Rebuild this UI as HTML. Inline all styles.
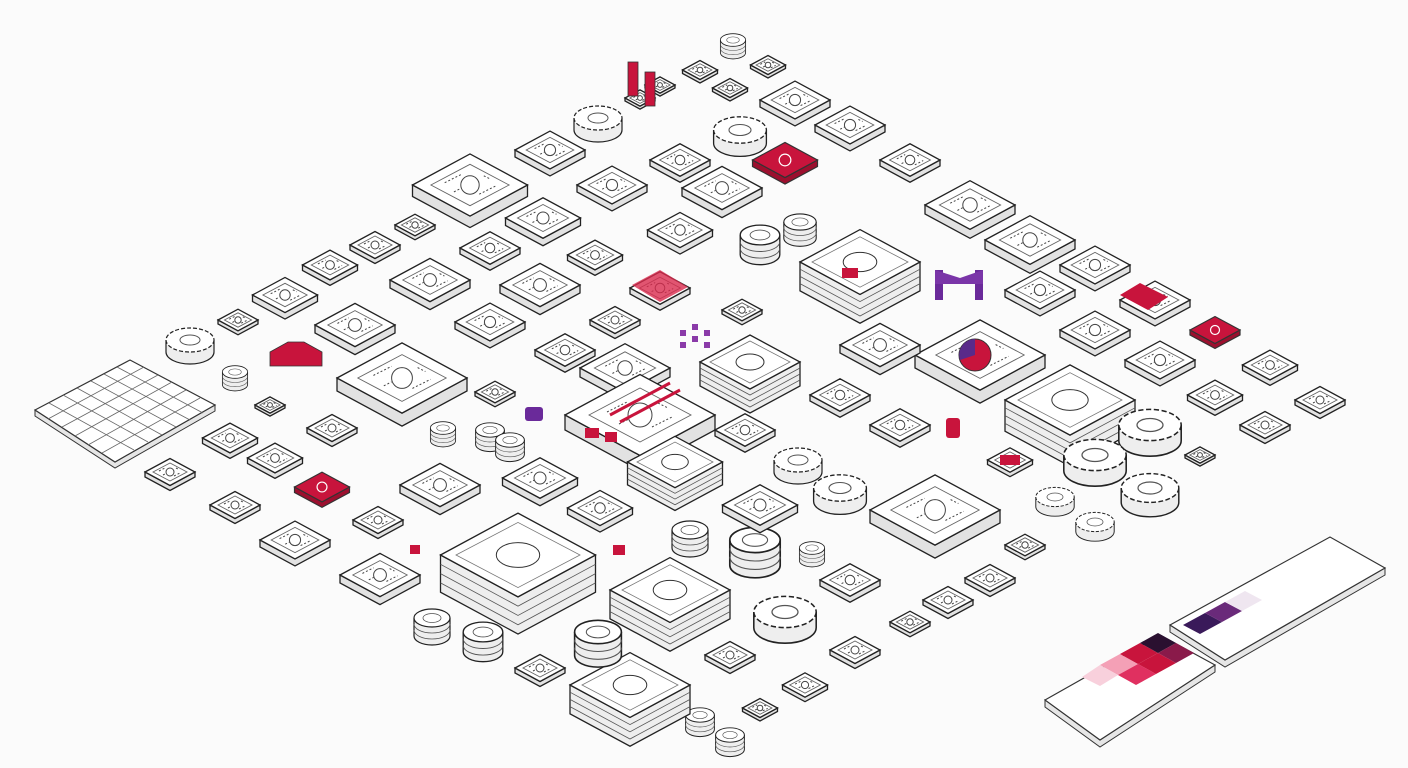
<!DOCTYPE html>
<html><head><meta charset="utf-8"><style>
html,body{margin:0;padding:0;background:#fbfbfb;}
svg{display:block;font-family:"Liberation Sans",sans-serif;}
</style></head><body>
<svg width="1408" height="768" viewBox="0 0 1408 768" xmlns="http://www.w3.org/2000/svg">
<defs>
<symbol id="b" overflow="visible">
<polygon points="-50,0 -50,10 0,37 50,10 50,0 0,27" fill="#e2e2e2" stroke="#222" stroke-width="1.3" vector-effect="non-scaling-stroke"/>
<polygon points="-50,0 0,-27 50,0 0,27" fill="#fff" stroke="#222" stroke-width="1.3" vector-effect="non-scaling-stroke"/>
<polygon points="-34,0 0,-18 34,0 0,18" fill="none" stroke="#666" stroke-width="0.9" vector-effect="non-scaling-stroke"/>
<circle cx="0" cy="0" r="8" fill="none" stroke="#444" stroke-width="1" vector-effect="non-scaling-stroke"/>
<path d="M-22,-2 l14,-7 M8,8 l14,-7 M-14,6 l6,-3 M12,-8 l6,3" stroke="#444" stroke-width="1" vector-effect="non-scaling-stroke" stroke-dasharray="2 2"/>
</symbol>
<symbol id="r" overflow="visible">
<polygon points="-50,0 -50,10 0,37 50,10 50,0 0,27" fill="#9c0f2e" stroke="#333" stroke-width="1.2" vector-effect="non-scaling-stroke"/>
<polygon points="-50,0 0,-27 50,0 0,27" fill="#c8143c" stroke="#333" stroke-width="1.2" vector-effect="non-scaling-stroke"/>
<circle cx="0" cy="0" r="9" fill="none" stroke="#fff" stroke-width="1.2" vector-effect="non-scaling-stroke"/>
</symbol>
<symbol id="m" overflow="visible">
<polygon points="-50,0 -50,24 0,51 50,24 50,0 0,27" fill="#eee" stroke="#222" stroke-width="1.3" vector-effect="non-scaling-stroke"/>
<polyline points="-50,6 0,33 50,6" fill="none" stroke="#555" stroke-width="0.8" vector-effect="non-scaling-stroke"/>
<polyline points="-50,12 0,39 50,12" fill="none" stroke="#555" stroke-width="0.8" vector-effect="non-scaling-stroke"/>
<polyline points="-50,18 0,45 50,18" fill="none" stroke="#555" stroke-width="0.8" vector-effect="non-scaling-stroke"/>
<polygon points="-50,0 0,-27 50,0 0,27" fill="#fff" stroke="#222" stroke-width="1.3" vector-effect="non-scaling-stroke"/>
<polygon points="-40,0 0,-21 40,0 0,21" fill="none" stroke="#777" stroke-width="0.8" vector-effect="non-scaling-stroke"/>
<ellipse cx="0" cy="0" rx="14" ry="8" fill="none" stroke="#333" stroke-width="1" vector-effect="non-scaling-stroke"/>
</symbol>
<symbol id="c" overflow="visible">
<path d="M-18,0 v18 a18,9 0 0 0 36,0 v-18" fill="#eee" stroke="#222" stroke-width="1.2"/>
<path d="M-18,6 a18,9 0 0 0 36,0 M-18,12 a18,9 0 0 0 36,0" fill="none" stroke="#555" stroke-width="0.8"/>
<ellipse cx="0" cy="0" rx="18" ry="9" fill="#fff" stroke="#222" stroke-width="1.2"/>
<ellipse cx="0" cy="0" rx="9" ry="4.5" fill="none" stroke="#555" stroke-width="0.8"/>
</symbol>
<symbol id="g" overflow="visible">
<path d="M-24,0 v12 a24,12 0 0 0 48,0 v-12" fill="#eee" stroke="#222" stroke-width="1.2"/>
<ellipse cx="0" cy="0" rx="24" ry="12" fill="#fff" stroke="#222" stroke-width="1.2" stroke-dasharray="4 2"/>
<ellipse cx="0" cy="0" rx="10" ry="5" fill="none" stroke="#555"/>
</symbol>
</defs>

<!-- left grid -->
<polygon points="35,410 35,416 115,468 215,411 215,405 115,462" fill="#e6e6e6" stroke="#333"/>
<polygon points="35,410 130,360 215,405 115,462" fill="#fff" stroke="#333" stroke-width="1.2"/>
<g stroke="#666" stroke-width="0.8">
<line x1="48" y1="419" x2="144" y2="367"/><line x1="62" y1="427" x2="158" y2="375"/><line x1="75" y1="436" x2="172" y2="382"/><line x1="88" y1="445" x2="186" y2="390"/><line x1="102" y1="453" x2="200" y2="398"/>
<line x1="49" y1="403" x2="134" y2="450"/><line x1="63" y1="395" x2="148" y2="442"/><line x1="77" y1="388" x2="162" y2="435"/><line x1="91" y1="381" x2="176" y2="427"/><line x1="104" y1="374" x2="190" y2="420"/><line x1="117" y1="367" x2="203" y2="413"/>
</g>

<use href="#b" transform="translate(470,185) scale(1.15)"/>
<use href="#b" transform="translate(550,150) scale(0.7)"/>
<use href="#g" transform="translate(598,118) scale(1)"/>
<use href="#b" transform="translate(795,100) scale(0.7)"/>
<use href="#b" transform="translate(850,125) scale(0.7)"/>
<use href="#r" transform="translate(785,160) scale(0.65)"/>
<use href="#g" transform="translate(740,130) scale(1.1)"/>
<use href="#b" transform="translate(910,160) scale(0.6)"/>
<use href="#b" transform="translate(970,205) scale(0.9)"/>
<use href="#b" transform="translate(1030,240) scale(0.9)"/>
<use href="#b" transform="translate(1095,265) scale(0.7)"/>
<use href="#b" transform="translate(1155,300) scale(0.7)"/>
<use href="#r" transform="translate(1215,330) scale(0.5)"/>
<use href="#b" transform="translate(1270,365) scale(0.55)"/>
<use href="#b" transform="translate(1320,400) scale(0.5)"/>
<use href="#b" transform="translate(1265,425) scale(0.5)"/>
<use href="#b" transform="translate(1215,395) scale(0.55)"/>
<use href="#b" transform="translate(1160,360) scale(0.7)"/>
<use href="#b" transform="translate(1095,330) scale(0.7)"/>
<use href="#b" transform="translate(1040,290) scale(0.7)"/>
<use href="#b" transform="translate(980,355) scale(1.3)"/>
<use href="#m" transform="translate(1070,400) scale(1.3)"/>
<use href="#g" transform="translate(1150,425) scale(1.3)"/>
<use href="#g" transform="translate(1095,455) scale(1.3)"/>
<use href="#g" transform="translate(1150,488) scale(1.2)"/>
<use href="#b" transform="translate(1200,455) scale(0.3)"/>
<use href="#b" transform="translate(935,510) scale(1.3)"/>
<use href="#b" transform="translate(880,345) scale(0.8)"/>
<use href="#m" transform="translate(860,262) scale(1.2)"/>
<use href="#b" transform="translate(840,395) scale(0.6)"/>
<use href="#b" transform="translate(900,425) scale(0.6)"/>
<use href="#b" transform="translate(1010,460) scale(0.45)"/>
<use href="#g" transform="translate(1055,497) scale(0.8)"/>
<use href="#g" transform="translate(1095,522) scale(0.8)"/>
<use href="#b" transform="translate(1025,545) scale(0.4)"/>
<use href="#b" transform="translate(990,578) scale(0.5)"/>
<use href="#b" transform="translate(948,600) scale(0.5)"/>
<use href="#b" transform="translate(910,622) scale(0.4)"/>
<use href="#b" transform="translate(855,650) scale(0.5)"/>
<use href="#b" transform="translate(805,685) scale(0.45)"/>
<use href="#b" transform="translate(760,708) scale(0.35)"/>
<use href="#c" transform="translate(730,735) scale(0.8)"/>
<use href="#c" transform="translate(700,715) scale(0.8)"/>
<use href="#b" transform="translate(730,655) scale(0.5)"/>
<use href="#g" transform="translate(785,612) scale(1.3)"/>
<use href="#b" transform="translate(850,580) scale(0.6)"/>
<use href="#c" transform="translate(755,540) scale(1.4)"/>
<use href="#c" transform="translate(812,548) scale(0.7)"/>
<use href="#b" transform="translate(760,505) scale(0.75)"/>
<use href="#c" transform="translate(690,530) scale(1)"/>
<use href="#m" transform="translate(670,590) scale(1.2)"/>
<use href="#m" transform="translate(630,685) scale(1.2)"/>
<use href="#b" transform="translate(540,668) scale(0.5)"/>
<use href="#c" transform="translate(598,632) scale(1.3)"/>
<use href="#m" transform="translate(518,555) scale(1.55)"/>
<use href="#c" transform="translate(483,632) scale(1.1)"/>
<use href="#c" transform="translate(432,618) scale(1)"/>
<use href="#b" transform="translate(380,575) scale(0.8)"/>
<use href="#b" transform="translate(295,540) scale(0.7)"/>
<use href="#b" transform="translate(235,505) scale(0.5)"/>
<use href="#b" transform="translate(170,472) scale(0.5)"/>
<use href="#b" transform="translate(230,438) scale(0.55)"/>
<use href="#b" transform="translate(275,458) scale(0.55)"/>
<use href="#r" transform="translate(322,487) scale(0.55)"/>
<use href="#b" transform="translate(378,520) scale(0.5)"/>
<use href="#b" transform="translate(440,485) scale(0.8)"/>
<use href="#b" transform="translate(332,428) scale(0.5)"/>
<use href="#b" transform="translate(270,405) scale(0.3)"/>
<use href="#c" transform="translate(235,372) scale(0.7)"/>
<use href="#g" transform="translate(190,340) scale(1)"/>
<use href="#b" transform="translate(238,320) scale(0.4)"/>
<use href="#b" transform="translate(285,295) scale(0.65)"/>
<use href="#b" transform="translate(330,265) scale(0.55)"/>
<use href="#b" transform="translate(375,245) scale(0.5)"/>
<use href="#b" transform="translate(415,225) scale(0.4)"/>
<use href="#b" transform="translate(355,325) scale(0.8)"/>
<use href="#b" transform="translate(402,378) scale(1.3)"/>
<use href="#b" transform="translate(430,280) scale(0.8)"/>
<use href="#b" transform="translate(490,248) scale(0.6)"/>
<use href="#b" transform="translate(543,218) scale(0.75)"/>
<use href="#b" transform="translate(612,185) scale(0.7)"/>
<use href="#b" transform="translate(680,160) scale(0.6)"/>
<use href="#b" transform="translate(722,188) scale(0.8)"/>
<use href="#c" transform="translate(760,235) scale(1.1)"/>
<use href="#c" transform="translate(800,222) scale(0.9)"/>
<use href="#b" transform="translate(680,230) scale(0.65)"/>
<use href="#b" transform="translate(595,255) scale(0.55)"/>
<use href="#b" transform="translate(540,285) scale(0.8)"/>
<use href="#b" transform="translate(490,322) scale(0.7)"/>
<use href="#b" transform="translate(565,350) scale(0.6)"/>
<use href="#b" transform="translate(615,320) scale(0.5)"/>
<use href="#b" transform="translate(660,288) scale(0.6)"/>
<polygon points="632,285 660,270 688,287 660,302" fill="#d92a4d" opacity="0.8"/>
<use href="#b" transform="translate(742,310) scale(0.4)"/>
<use href="#b" transform="translate(625,368) scale(0.9)"/>
<use href="#m" transform="translate(750,362) scale(1)"/>
<use href="#b" transform="translate(640,415) scale(1.5)"/>
<line x1="610" y1="415" x2="670" y2="383" stroke="#c8143c" stroke-width="3"/>
<line x1="620" y1="422" x2="680" y2="390" stroke="#c8143c" stroke-width="3"/>
<rect x="585" y="428" width="14" height="10" fill="#c8143c"/><rect x="605" y="432" width="12" height="10" fill="#c8143c"/>
<use href="#m" transform="translate(675,462) scale(0.95)"/>
<use href="#b" transform="translate(600,508) scale(0.65)"/>
<use href="#b" transform="translate(540,478) scale(0.75)"/>
<use href="#c" transform="translate(490,430) scale(0.8)"/>
<use href="#c" transform="translate(510,440) scale(0.8)"/>
<use href="#c" transform="translate(443,428) scale(0.7)"/>
<use href="#b" transform="translate(495,392) scale(0.4)"/>
<use href="#b" transform="translate(745,430) scale(0.6)"/>
<use href="#g" transform="translate(798,460) scale(1)"/>
<use href="#g" transform="translate(840,488) scale(1.1)"/>
<use href="#b" transform="translate(700,70) scale(0.35)"/>
<use href="#c" transform="translate(733,40) scale(0.7)"/>
<use href="#b" transform="translate(768,65) scale(0.35)"/>
<use href="#b" transform="translate(730,88) scale(0.35)"/>
<use href="#b" transform="translate(660,85) scale(0.3)"/>
<use href="#b" transform="translate(640,98) scale(0.3)"/>

<rect x="628" y="62" width="10" height="34" fill="#c8143c" stroke="#333" stroke-width="0.8"/>
<rect x="645" y="72" width="10" height="34" fill="#c8143c" stroke="#333" stroke-width="0.8"/>
<path d="M270,352 l18,-10 h16 l18,10 v14 h-52z" fill="#c8143c" stroke="#333" stroke-width="0.8"/>
<rect x="935" y="270" width="8" height="30" fill="#6a2a9a"/><rect x="975" y="270" width="8" height="30" fill="#6a2a9a"/>
<polygon points="935,270 960,278 983,270 983,284 935,284" fill="#7a35a8"/>
<circle cx="975" cy="355" r="16" fill="#c8143c" stroke="#333"/>
<path d="M975,355 L975,339 A16,16 0 0 0 960,360z" fill="#5a2a8a"/>
<rect x="525" y="407" width="18" height="14" rx="3" fill="#6a2a9a"/>
<rect x="946" y="418" width="14" height="20" rx="3" fill="#c8143c"/>
<g fill="#8a3aa8"><rect x="680" y="330" width="6" height="6"/><rect x="692" y="324" width="6" height="6"/><rect x="704" y="330" width="6" height="6"/><rect x="692" y="336" width="6" height="6"/><rect x="680" y="342" width="6" height="6"/><rect x="704" y="342" width="6" height="6"/></g>
<rect x="410" y="545" width="10" height="9" fill="#c8143c"/><rect x="613" y="545" width="12" height="10" fill="#c8143c"/>
<polygon points="1120,295 1140,283 1168,297 1148,310" fill="#c8143c"/>
<rect x="1000" y="455" width="20" height="10" fill="#c8143c"/>
<rect x="842" y="268" width="16" height="10" fill="#c8143c"/>

<polygon points="1170,625 1170,632 1225,667 1385,575 1385,568 1225,660" fill="#e6e6e6" stroke="#333"/>
<polygon points="1170,625 1330,537 1385,568 1225,660" fill="#fff" stroke="#333" stroke-width="1.2"/>
<polygon points="1183,625 1205,613 1222,622 1200,634" fill="#3a1a5a"/>
<polygon points="1205,613 1225,602 1242,611 1222,622" fill="#6a2a7a"/>
<polygon points="1225,602 1245,591 1262,600 1242,611" fill="#efe6f0"/>
<polygon points="1045,700 1045,707 1100,747 1215,672 1215,665 1100,740" fill="#e6e6e6" stroke="#333"/>
<polygon points="1045,700 1160,635 1215,665 1100,740" fill="#fff" stroke="#333" stroke-width="1.2"/>
<polygon points="1100,665 1120,654 1138,664 1118,675" fill="#f4a0b6"/>
<polygon points="1120,654 1140,643 1158,653 1138,664" fill="#c8143c"/>
<polygon points="1140,643 1158,633 1176,643 1158,653" fill="#2a1030"/>
<polygon points="1118,675 1138,664 1156,674 1136,685" fill="#e03060"/>
<polygon points="1138,664 1158,653 1176,663 1156,674" fill="#c8143c"/>
<polygon points="1158,653 1176,643 1194,653 1176,663" fill="#8a1a4a"/>
<polygon points="1082,677 1100,665 1118,675 1100,686" fill="#f8d0dc"/>
</svg>
</body></html>
